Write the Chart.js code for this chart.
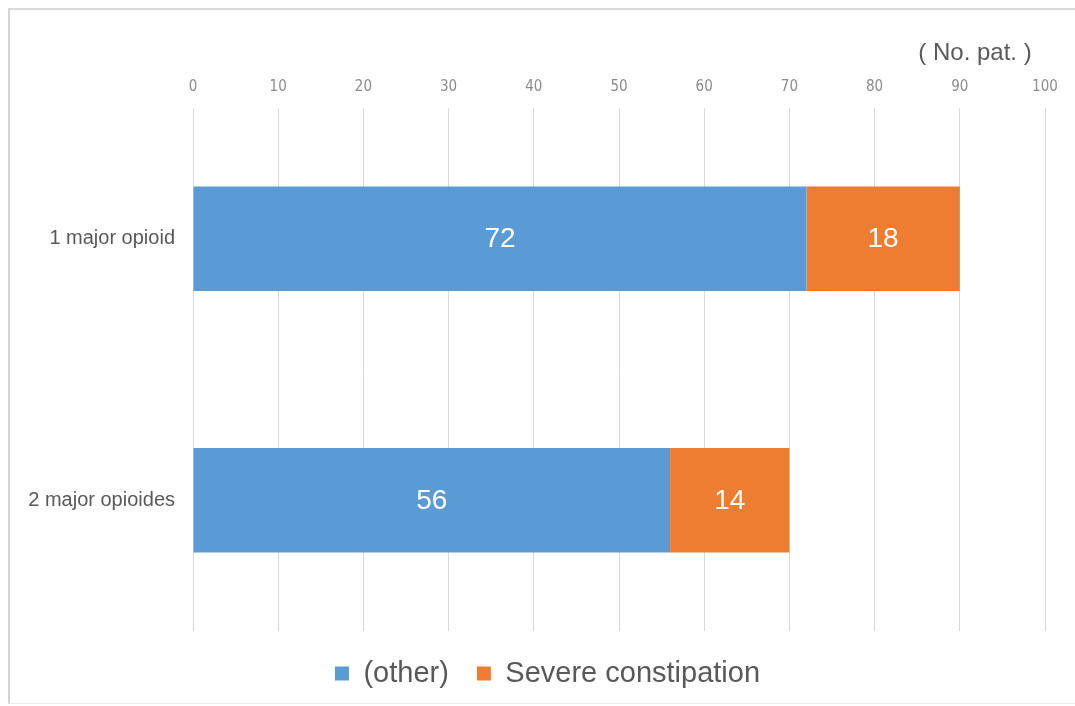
<!DOCTYPE html>
<html>
<head>
<meta charset="utf-8">
<script src="https://cdn.jsdelivr.net/npm/chart.js@4/dist/chart.umd.min.js"></script>
<style>
  html, body { margin: 0; padding: 0; background: #ffffff; }
  #frame {
    position: absolute; left: 8px; top: 8px; width: 1067px; height: 696px;
    border-left: 2px solid #d4d4d4; border-top: 2px solid #d9d9d9;
    border-bottom: 1px solid #ececec; box-sizing: border-box;
  }
  #wrap { position: absolute; left: 0; top: 0; width: 1075px; height: 706px; }
</style>
</head>
<body>
<div id="frame"></div>
<div id="wrap"><canvas id="c" width="1075" height="706"></canvas></div>
<script>
// Patient counts per opioid regimen
const categories = ['1 major opioid', '2 major opioides'];
const otherCounts = [72, 56];
const constipationCounts = [18, 14];
const seriesNames = ['(other)', 'Severe constipation'];
const axisTitle = '( No. pat. )';

const BLUE = '#5b9bd5';
const ORANGE = '#ed7d31';
const TEXT = '#595959';

// White value labels centred inside each bar segment
const valueLabels = {
  id: 'valueLabels',
  afterDatasetsDraw(chart) {
    const ctx = chart.ctx;
    ctx.save();
    ctx.fillStyle = '#ffffff';
    ctx.font = '28px "Liberation Sans", Arial, sans-serif';
    ctx.textAlign = 'center';
    ctx.textBaseline = 'middle';
    chart.data.datasets.forEach((ds, i) => {
      chart.getDatasetMeta(i).data.forEach((bar, j) => {
        const cx = (bar.x + bar.base) / 2;
        ctx.fillText(String(ds.data[j]), cx, bar.y + 1);
      });
    });
    ctx.restore();
  }
};

// Unit caption above the top axis
const unitCaption = {
  id: 'unitCaption',
  afterDraw(chart) {
    const ctx = chart.ctx;
    ctx.save();
    ctx.fillStyle = TEXT;
    ctx.font = '24px "Liberation Sans", Arial, sans-serif';
    ctx.textAlign = 'center';
    ctx.textBaseline = 'middle';
    ctx.fillText(axisTitle, 975, 53);
    ctx.restore();
  }
};

// Centre the legend under the whole frame rather than the canvas minus right padding
const legendShift = {
  id: 'legendShift',
  afterLayout(chart) {
    if (chart.legend) {
      chart.legend.left += 25;
      chart.legend.right += 25;
    }
  }
};

new Chart(document.getElementById('c'), {
  type: 'bar',
  data: {
    labels: categories,
    datasets: [
      { label: seriesNames[0], data: otherCounts, backgroundColor: BLUE },
      { label: seriesNames[1], data: constipationCounts, backgroundColor: ORANGE }
    ]
  },
  options: {
    indexAxis: 'y',
    responsive: false,
    animation: false,
    devicePixelRatio: 1,
    layout: { padding: { left: 0, right: 30, top: 0, bottom: 8 } },
    datasets: { bar: { categoryPercentage: 0.8, barPercentage: 0.5 } },
    scales: {
      x: {
        position: 'top',
        stacked: true,
        min: 0, max: 100,
        ticks: {
          stepSize: 10,
          padding: 12,
          color: '#8c8c8c',
          font: { family: '"Liberation Sans Narrow", "DejaVu Sans Condensed", sans-serif', size: 15 }
        },
        grid: { color: '#d9d9d9', drawTicks: false },
        border: { display: false },
        afterFit(scale) { scale.height = 108; }
      },
      y: {
        stacked: true,
        ticks: {
          padding: 18,
          color: TEXT,
          font: { family: '"Liberation Sans", Arial, sans-serif', size: 20 }
        },
        grid: { display: false, drawTicks: false },
        border: { display: false },
        afterFit(scale) { scale.width = 193; }
      }
    },
    plugins: {
      legend: {
        position: 'bottom',
        labels: {
          color: TEXT,
          boxWidth: 14, boxHeight: 14,
          padding: 28,
          font: { family: '"Liberation Sans", Arial, sans-serif', size: 29 }
        }
      },
      tooltip: { enabled: false }
    }
  },
  plugins: [valueLabels, unitCaption, legendShift]
});
</script>
</body>
</html>
